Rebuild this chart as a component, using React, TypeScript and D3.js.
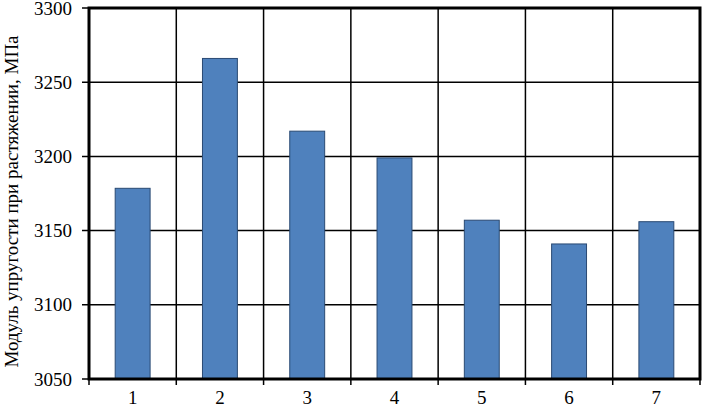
import React, { useEffect, useRef } from "react";
import * as d3 from "d3";

const categories = ["1", "2", "3", "4", "5", "6", "7"];
const values = [3178.5, 3266, 3217, 3199, 3157, 3141, 3156];
const yTicks = [3050, 3100, 3150, 3200, 3250, 3300];
const yTitle = "Модуль упругости при растяжении, МПа";

export default function App() {
  const ref = useRef<SVGSVGElement>(null);

  useEffect(() => {
    const svg = d3.select(ref.current);
    svg.selectAll("*").remove();

    const left = 89, right = 700, top = 8, bottom = 379;
    const font = "'Liberation Serif', 'Times New Roman', serif";

    const x = d3.scaleBand().domain(categories).range([left, right]).paddingInner(0).paddingOuter(0);
    const y = d3.scaleLinear().domain([3050, 3300]).range([bottom, top]);

    // horizontal grid
    svg.append("g")
      .selectAll("line")
      .data(yTicks)
      .join("line")
      .attr("x1", left - 7)
      .attr("x2", right)
      .attr("y1", d => y(d))
      .attr("y2", d => y(d))
      .attr("stroke", "#000")
      .attr("stroke-width", 1.5);

    // vertical grid at category boundaries
    const bounds = categories.map(c => x(c) as number).concat([right]);
    svg.append("g")
      .selectAll("line")
      .data(bounds)
      .join("line")
      .attr("x1", d => d)
      .attr("x2", d => d)
      .attr("y1", top)
      .attr("y2", bottom + 6)
      .attr("stroke", "#000")
      .attr("stroke-width", 1.5);

    // bars
    const bw = x.bandwidth() * 0.4;
    svg.append("g")
      .selectAll("rect")
      .data(values)
      .join("rect")
      .attr("x", (d, i) => (x(categories[i]) as number) + x.bandwidth() / 2 - bw / 2)
      .attr("width", bw)
      .attr("y", d => y(d))
      .attr("height", d => bottom - y(d))
      .attr("fill", "#4F81BD")
      .attr("stroke", "#2A4A73")
      .attr("stroke-width", 1);

    // frame
    svg.append("rect")
      .attr("x", left)
      .attr("y", top)
      .attr("width", right - left)
      .attr("height", bottom - top)
      .attr("fill", "none")
      .attr("stroke", "#000")
      .attr("stroke-width", 3);

    // y labels
    svg.append("g")
      .selectAll("text")
      .data(yTicks)
      .join("text")
      .attr("x", left - 17)
      .attr("y", d => y(d))
      .attr("dy", "0.35em")
      .attr("text-anchor", "end")
      .attr("font-family", font)
      .attr("font-size", 19)
      .text(d => d);

    // x labels
    svg.append("g")
      .selectAll("text")
      .data(categories)
      .join("text")
      .attr("x", d => (x(d) as number) + x.bandwidth() / 2)
      .attr("y", 404)
      .attr("text-anchor", "middle")
      .attr("font-family", font)
      .attr("font-size", 19)
      .text(d => d);

    svg.append("text")
      .attr("transform", `translate(18, ${(top + bottom) / 2 + 8}) rotate(-90)`)
      .attr("text-anchor", "middle")
      .attr("font-family", font)
      .attr("font-size", 19)
      .text(yTitle);
  }, []);

  return (
    <svg ref={ref} width={703} height={408} style={{ position: "absolute", left: 0, top: 0, background: "#fff" }} />
  );
}
